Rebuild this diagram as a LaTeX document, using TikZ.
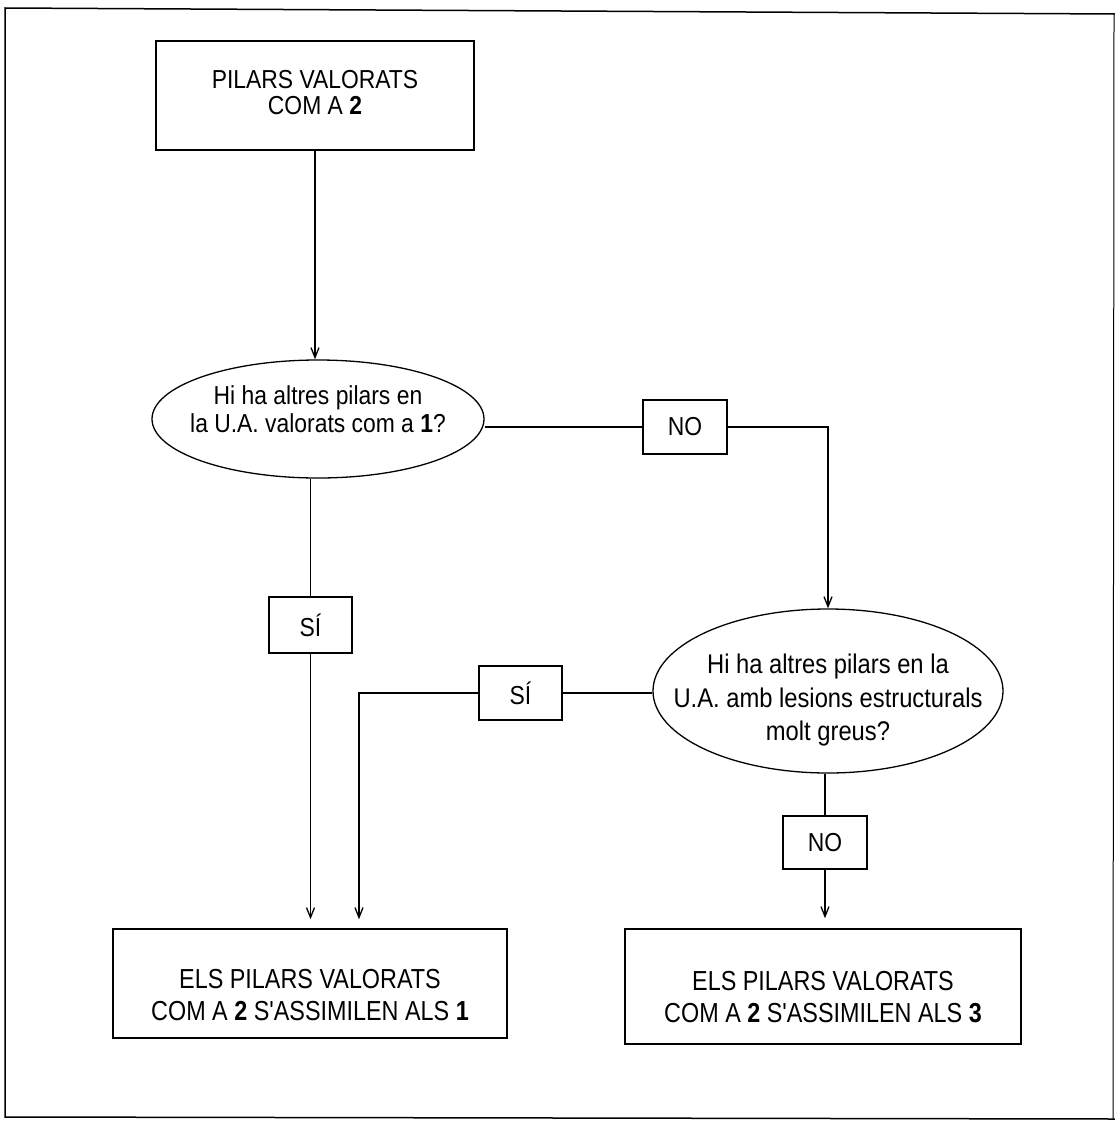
\documentclass[tikz,border=0pt]{standalone}
\usepackage{fontspec}
\setmainfont[FakeStretch=0.88]{Liberation Sans}
\newfontfamily\narrowfont[FakeStretch=0.85]{Liberation Sans}
\usetikzlibrary{shapes.geometric,arrows.meta}

\begin{document}
\begin{tikzpicture}[x=1pt,y=-1pt,
  txt/.style={font=\fontsize{26}{28}\selectfont, align=center, inner sep=0pt},
  box/.style={draw, line width=1.4pt, inner sep=0pt},
  oval/.style={draw, ellipse, line width=1.3pt, inner sep=0pt},
  tag/.style={box, font=\fontsize{26}{28}\selectfont},
  restxt/.style={txt, font=\narrowfont\fontsize{27.5}{32}\selectfont},
  ln/.style={line width=1.3pt},
  arr/.style={ln, -{Straight Barb[length=10pt,width=8pt,line width=1.3pt]}}]
\useasboundingbox (0,0) rectangle (1115,1121);

% page frame
\draw[line width=1.5pt] (1116,14) -- (5,8) -- (5,1117) -- (1116,1119);
\draw[line width=1pt] (1114,14) -- (1113,1119);

% boxes and decisions
\node[box, minimum width=318pt, minimum height=109pt] (top) at (315,95.5) {};
\node[txt, font=\fontsize{26}{26}\selectfont] (toptxt) at (315,92.5) {PILARS VALORATS\\COM A \textbf{2}};

\node[oval, minimum width=332pt, minimum height=118pt] (e1) at (318,419) {};
\node[txt] (e1txt) at (318,409) {Hi ha altres pilars en\\la U.A. valorats com a \textbf{1}?};

\node[tag, minimum width=84pt, minimum height=54pt] (no1) at (685,427) {NO};
\node[tag, minimum width=83pt, minimum height=56pt] (si1) at (310.5,625) {SÍ};

\node[oval, minimum width=350pt, minimum height=164pt] (e2) at (828,691) {};
\node[txt, font=\fontsize{27}{33.5}\selectfont] (e2txt) at (828,700.5) {Hi ha altres pilars en la\\U.A. amb lesions estructurals\\molt greus?};

\node[tag, minimum width=83pt, minimum height=54pt] (si2) at (520.5,693) {SÍ};
\node[tag, minimum width=84pt, minimum height=53pt] (no2) at (825,842.5) {NO};

\node[box, minimum width=394pt, minimum height=109pt] (res1) at (310,983.5) {};
\node[restxt] (res1txt) at (310,995) {ELS PILARS VALORATS\\COM A \textbf{2} S'ASSIMILEN ALS \textbf{1}};

\node[box, minimum width=396pt, minimum height=115pt] (res2) at (823,986.5) {};
\node[restxt] (res2txt) at (823,997) {ELS PILARS VALORATS\\COM A \textbf{2} S'ASSIMILEN ALS \textbf{3}};

% connectors
\draw[arr] (top.south) -- (top.south |- e1.north);

\draw[ln] (e1.east |- no1.west) -- (no1.west);
\draw[arr] (no1.east) -| (e2.north);

\draw[ln] (e1.south -| si1.north) -- (si1.north);
\draw[arr, shorten >=9pt] (si1.south) -- (si1.south |- res1.north);

\draw[ln] (e2.west |- si2.east) -- (si2.east);
\draw[arr, shorten >=9pt] (si2.west) -| ([xshift=49pt]res1.north);

\draw[ln] (e2.south -| no2.north) -- (no2.north);
\draw[arr, shorten >=10pt] (no2.south) -- (no2.south |- res2.north);
\end{tikzpicture}
\end{document}
